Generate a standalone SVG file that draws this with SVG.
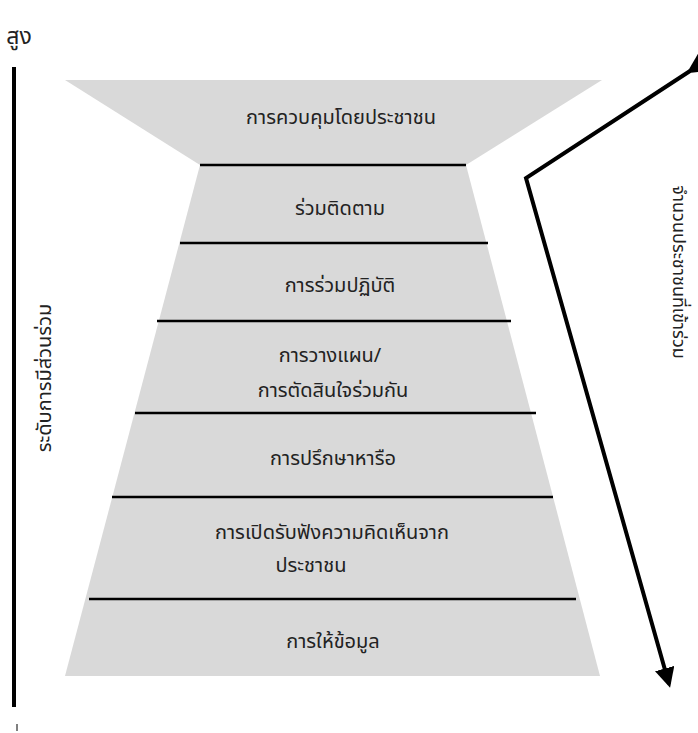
<svg xmlns="http://www.w3.org/2000/svg" width="698" height="733" viewBox="0 0 698 733">
<style>
.t{font-family:"Noto Sans","Noto Sans Thai","DejaVu Sans",sans-serif;font-size:20px;fill:#222;text-anchor:middle}
.f{fill:#d9d9d9}
.sep{stroke:#000;stroke-width:2.5}
.ax{stroke:#000;stroke-width:4;fill:none}
</style>
<defs>
<marker id="ah" viewBox="0 0 10 10" refX="8" refY="5" markerWidth="5" markerHeight="5" orient="auto" markerUnits="strokeWidth">
<path d="M0,0 L10,5 L0,10 Z" fill="#000"/>
</marker>
</defs>
<g id="funnel">
<polygon class="f" points="65,80 602,80 466,165 200,165"/>
<polygon class="f" points="200,165 466,165 600,676 65,676"/>
</g>
<g id="separators">
<line class="sep" x1="200" y1="165" x2="466" y2="165"/>
<line class="sep" x1="180" y1="243" x2="488" y2="243"/>
<line class="sep" x1="157" y1="321" x2="511" y2="321"/>
<line class="sep" x1="135" y1="413" x2="536" y2="413"/>
<line class="sep" x1="112" y1="497" x2="553" y2="497"/>
<line class="sep" x1="89" y1="599" x2="576" y2="599"/>
</g>
<g id="level7"><text class="t" x="341" y="124">การควบคุมโดยประชาชน</text></g>
<g id="level6"><text class="t" x="340" y="215">ร่วมติดตาม</text></g>
<g id="level5"><text class="t" x="340" y="292">การร่วมปฏิบัติ</text></g>
<g id="level4"><text class="t" x="330" y="362">การวางแผน/</text><text class="t" x="333" y="397">การตัดสินใจร่วมกัน</text></g>
<g id="level3"><text class="t" x="333" y="465">การปรึกษาหารือ</text></g>
<g id="level2"><text class="t" x="332" y="539">การเปิดรับฟังความคิดเห็นจาก</text><text class="t" x="311" y="572">ประชาชน</text></g>
<g id="level1"><text class="t" x="333" y="648">การให้ข้อมูล</text></g>
<g id="axis-left">
<line class="ax" x1="14" y1="67" x2="14" y2="707"/>
<text class="t" x="19" y="44" style="font-size:23px">สูง</text>
<text class="t" transform="translate(51,378) rotate(-90)">ระดับการมีส่วนร่วม</text>
<line x1="17" y1="724" x2="17" y2="731" stroke="#000" stroke-width="1"/>
</g>
<g id="connectors">
<polyline class="ax" points="690,71 526,178 669,684" marker-start="url(#ah)" marker-end="url(#ah)" style="stroke-linejoin:miter"/>
</g>
<g id="axis-right">
<text class="t" transform="translate(673,272) rotate(90)" style="font-size:18px">จำนวนประชาชนที่เข้าร่วม</text>
</g>
</svg>
